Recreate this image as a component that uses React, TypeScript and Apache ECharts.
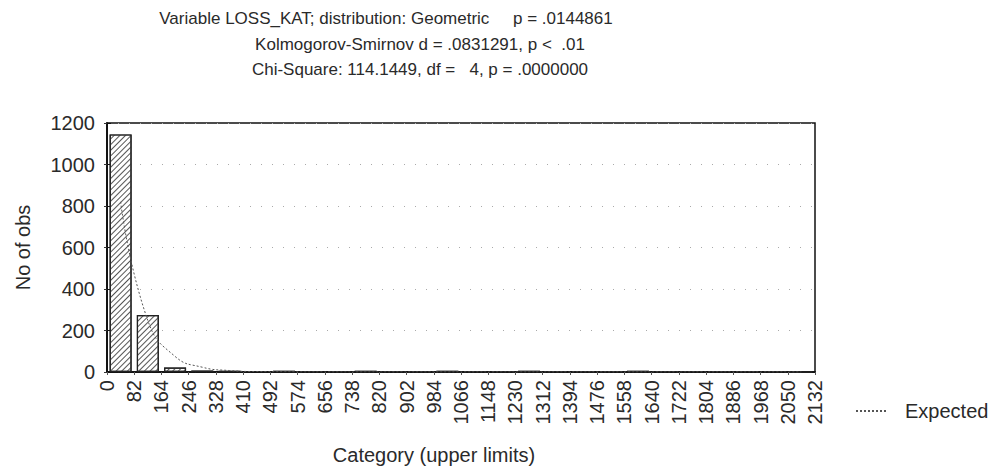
import React, { useEffect, useRef } from "react";
import * as echarts from "echarts";

const titleLines = [
  "Variable LOSS_KAT; distribution: Geometric     p = .0144861",
  "Kolmogorov-Smirnov d = .0831291, p <  .01",
  "Chi-Square: 114.1449, df =   4, p = .0000000",
];

// bin upper limits (x tick labels)
const binUpper = [
  82, 164, 246, 328, 410, 492, 574, 656, 738, 820, 902, 984, 1066, 1148, 1230,
  1312, 1394, 1476, 1558, 1640, 1722, 1804, 1886, 1968, 2050, 2132,
];
// observed counts per bin
const observed = [
  1145, 275, 22, 7, 6, 5, 6, 5, 5, 6, 5, 5, 6, 5, 5, 6, 5, 5, 5, 6, 5, 5, 5, 5, 5, 0,
];
// expected counts per bin (geometric fit)
const expected = [
  820, 248, 75, 23, 7, 2, 1, 0, 0, 0, 0, 0, 0, 0, 0, 0, 0, 0, 0, 0, 0, 0, 0, 0, 0, 0,
];

const FONT = "'Liberation Sans', Arial, sans-serif";
const TXT = "#2a2a2a";

export default function App() {
  const ref = useRef<HTMLDivElement>(null);
  useEffect(() => {
    document.body.style.margin = "0";
    const chart = echarts.init(ref.current!, null, { renderer: "svg" });
    const centers = binUpper.map((u, i) => ((i === 0 ? 0 : binUpper[i - 1]) + u) / 2);
    const xMax = binUpper[binUpper.length - 1];
    const xInterval = binUpper[0];
    const titleFont = `17px ${FONT}`;
    chart.setOption({
      animation: false,
      backgroundColor: "#fff",
      textStyle: { fontFamily: FONT },
      graphic: [
        { type: "text", x: 386, y: 10, style: { text: titleLines[0], font: titleFont, fill: TXT, textAlign: "center" } },
        { type: "text", x: 420, y: 36, style: { text: titleLines[1], font: titleFont, fill: TXT, textAlign: "center" } },
        { type: "text", x: 420, y: 61, style: { text: titleLines[2], font: titleFont, fill: TXT, textAlign: "center" } },
      ],
      legend: {
        data: ["Expected"],
        left: 850,
        top: 396,
        itemWidth: 32,
        itemHeight: 14,
        itemStyle: { opacity: 0 },
        textStyle: { fontSize: 20, color: TXT, fontFamily: FONT, padding: [0, 0, 0, 12] },
      },
      grid: {
        left: 107,
        right: 179,
        top: 123,
        bottom: 97,
        show: true,
        borderColor: "#111",
        borderWidth: 1.5,
      },
      xAxis: [
        {
          type: "value",
          min: 0,
          max: xMax,
          interval: xInterval,
          name: "Category (upper limits)",
          nameLocation: "middle",
          nameGap: 73,
          nameTextStyle: { fontSize: 20, color: TXT, fontFamily: FONT, padding: [0, 54, 0, 0] },
          axisLine: { show: true, lineStyle: { color: "#111", width: 1.5 } },
          axisTick: { show: false },
          splitLine: { show: false },
          axisLabel: {
            rotate: 90,
            fontSize: 20,
            color: TXT,
            fontFamily: FONT,
            margin: 8,
            showMaxLabel: true,
            showMinLabel: true,
            formatter: (v: number) => String(v),
          },
        },
        {
          type: "value",
          position: "top",
          min: 0,
          max: xMax,
          interval: xInterval,
          axisLine: { show: true, lineStyle: { color: "#111", width: 1.5 } },
          axisTick: { show: true, inside: true, length: 3, lineStyle: { color: "#555" } },
          axisLabel: { show: false },
          splitLine: { show: false },
        },
      ],
      yAxis: [
        {
          type: "value",
          min: 0,
          max: 1200,
          interval: 200,
          name: "No of obs",
          nameLocation: "middle",
          nameGap: 74,
          nameTextStyle: { fontSize: 20, color: TXT, fontFamily: FONT },
          axisLine: { show: true, lineStyle: { color: "#111", width: 1.5 } },
          axisTick: { show: true, inside: true, length: 4, lineStyle: { color: "#111" } },
          axisLabel: { fontSize: 20, color: TXT, fontFamily: FONT, margin: 12, formatter: (v: number) => String(v) },
          splitLine: { show: true, lineStyle: { color: "#aaa", width: 1, type: [1, 10] } },
        },
        {
          type: "value",
          position: "right",
          min: 0,
          max: 1200,
          interval: 200,
          axisLine: { show: true, lineStyle: { color: "#111", width: 1.5 } },
          axisTick: { show: true, inside: true, length: 3, lineStyle: { color: "#333" } },
          axisLabel: { show: false },
          splitLine: { show: false },
        },
      ],
      series: [
        {
          name: "Observed",
          type: "bar",
          xAxisIndex: 0,
          yAxisIndex: 0,
          barWidth: 22,
          data: centers.map((c, i) => [c, observed[i]]),
          itemStyle: {
            color: "#fff",
            borderColor: "#222",
            borderWidth: 1.2,
            decal: {
              symbol: "rect",
              symbolSize: 1,
              color: "#555",
              dashArrayX: [1, 0],
              dashArrayY: [1, 3],
              rotation: -Math.PI / 4,
            },
          },
        },
        {
          name: "Expected",
          type: "line",
          xAxisIndex: 0,
          yAxisIndex: 0,
          smooth: true,
          symbol: "none",
          data: centers.map((c, i) => [c, expected[i]]),
          lineStyle: { color: "#555", width: 1, type: [2, 2] },
          itemStyle: { color: "#555" },
          z: 5,
        },
      ],
    });
    return () => chart.dispose();
  }, []);
  return <div ref={ref} style={{ width: 994, height: 470 }} />;
}
